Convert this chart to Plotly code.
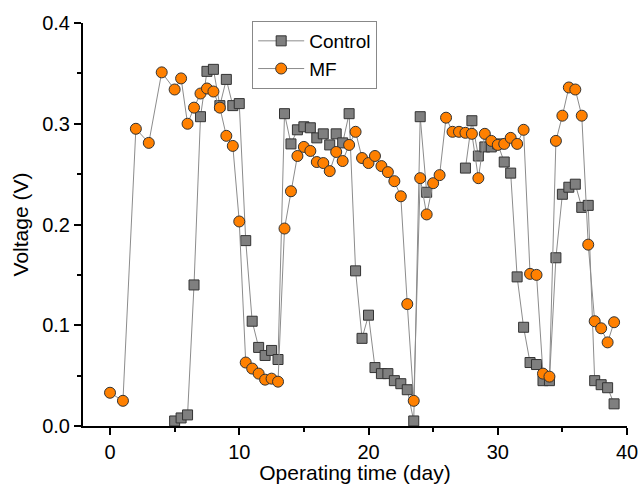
import plotly.graph_objects as go

# ---- data ----
control_day = [5.0, 5.5, 6.0, 6.5, 7.0, 7.5, 8.0, 8.5, 9.0, 9.5, 10.0, 10.5, 11.0, 11.5,
               12.0, 12.5, 13.0, 13.5, 14.0, 14.5, 15.0, 15.5, 16.0, 16.5, 17.0, 17.5,
               18.0, 18.5, 19.0, 19.5, 20.0, 20.5, 21.0, 21.5, 22.0, 22.5, 23.0, 23.5,
               24.0, 24.5, 26.0, 27.5, 28.0, 28.5, 29.0, 29.5, 30.0, 30.5, 31.0, 31.5,
               32.0, 32.5, 33.0, 33.5, 34.0, 34.5, 35.0, 35.5, 36.0, 36.5, 37.0, 37.5,
               38.0, 38.5, 39.0]
control_v = [0.005, 0.008, 0.011, 0.140, 0.307, 0.352, 0.354, 0.318, 0.344, 0.318, 0.320,
             0.184, 0.104, 0.078, 0.070, 0.075, 0.066, 0.310, 0.280, 0.294, 0.297, 0.296,
             0.286, 0.290, 0.279, 0.290, 0.281, 0.310, 0.154, 0.087, 0.110, 0.058, 0.052,
             0.052, 0.045, 0.042, 0.036, 0.005, 0.307, 0.232, None, 0.256, 0.303, 0.268,
             0.277, 0.277, 0.280, 0.262, 0.251, 0.148, 0.098, 0.063, 0.061, 0.045, 0.045,
             0.167, 0.230, 0.237, 0.240, 0.217, 0.219, 0.045, 0.041, 0.038, 0.022]

mf_day = [0.0, 1.0, 2.0, 3.0, 4.0, 5.0, 5.5, 6.0, 6.5, 7.0, 7.5, 8.0, 8.5, 9.0, 9.5,
          10.0, 10.5, 11.0, 11.5, 12.0, 12.5, 13.0, 13.5, 14.0, 14.5, 15.0, 15.5, 16.0,
          16.5, 17.0, 17.5, 18.0, 18.5, 19.0, 19.5, 20.0, 20.5, 21.0, 21.5, 22.0, 22.5,
          23.0, 23.5, 24.0, 24.5, 25.0, 25.5, 26.0, 26.5, 27.0, 27.5, 28.0, 28.5, 29.0,
          29.5, 30.0, 30.5, 31.0, 31.5, 32.0, 32.5, 33.0, 33.5, 34.0, 34.5, 35.0, 35.5,
          36.0, 36.5, 37.0, 37.5, 38.0, 38.5, 39.0]
mf_v = [0.033, 0.025, 0.295, 0.281, 0.351, 0.334, 0.345, 0.300, 0.316, 0.330, 0.335,
        0.332, 0.316, 0.288, 0.278, 0.203, 0.063, 0.057, 0.052, 0.046, 0.047, 0.044,
        0.196, 0.233, 0.268, 0.277, 0.273, 0.262, 0.261, 0.253, 0.272, 0.263, 0.279,
        0.292, 0.266, 0.261, 0.268, 0.258, 0.252, 0.243, 0.228, 0.121, 0.025, 0.246,
        0.210, 0.241, 0.249, 0.306, 0.292, 0.292, 0.291, 0.290, 0.246, 0.290, 0.283,
        0.279, 0.280, 0.286, 0.280, 0.294, 0.151, 0.150, 0.052, 0.049, 0.283, 0.308,
        0.336, 0.334, 0.308, 0.180, 0.104, 0.097, 0.083, 0.103]

x_ticks = [0, 10, 20, 30, 40]
y_ticks = [0.0, 0.1, 0.2, 0.3, 0.4]
y_tick_labels = ["0.0", "0.1", "0.2", "0.3", "0.4"]

FONT = "Liberation Sans, Arial, sans-serif"

fig = go.Figure()
fig.add_trace(go.Scatter(
    x=control_day, y=control_v, name="Control", mode="lines+markers",
    connectgaps=False, cliponaxis=False,
    line=dict(color="#8c8c8c", width=1),
    marker=dict(symbol="square", size=10, color="#7f7f7f",
                line=dict(color="#333333", width=1)),
))
fig.add_trace(go.Scatter(
    x=mf_day, y=mf_v, name="MF", mode="lines+markers", cliponaxis=False,
    line=dict(color="#8c8c8c", width=1),
    marker=dict(symbol="circle", size=11, color="#ff8000",
                line=dict(color="#333333", width=1)),
))

axis_common = dict(
    showline=True, linecolor="black", linewidth=2, mirror=False,
    ticks="outside", ticklen=7, tickwidth=1.5, tickcolor="black",
    showgrid=False, zeroline=False, automargin=False,
    tickfont=dict(family=FONT, size=20, color="black"),
)

fig.update_xaxes(
    range=[-2.09, 40], tickvals=x_ticks,
    minor=dict(dtick=5, tick0=0, ticks="outside", ticklen=4, tickwidth=1.5,
               tickcolor="black", showgrid=False),
    title=dict(text="Operating time (day)", font=dict(family=FONT, size=21, color="black"),
               standoff=4),
    **axis_common,
)
fig.update_yaxes(
    range=[0, 0.4], tickvals=y_ticks, ticktext=y_tick_labels,
    minor=dict(dtick=0.05, tick0=0, ticks="outside", ticklen=4, tickwidth=1.5,
               tickcolor="black", showgrid=False),
    title=dict(text="Voltage (V)", font=dict(family=FONT, size=21, color="black"),
               standoff=8),
    **axis_common,
)

fig.update_layout(
    width=639, height=484,
    margin=dict(l=83, r=12, t=23, b=58, autoexpand=False),
    paper_bgcolor="white", plot_bgcolor="white",
    showlegend=True,
    legend=dict(x=0.311, y=1.005, xanchor="left", yanchor="top",
                bordercolor="#888888", borderwidth=1, bgcolor="white",
                itemwidth=46, entrywidth=78, entrywidthmode="pixels",
                font=dict(family=FONT, size=19, color="black"),
                tracegroupgap=0),
)

fig.write_html("out.html",
               config={"displayModeBar": False},
               post_script="document.body.style.margin='0';document.body.style.overflow='hidden';")
